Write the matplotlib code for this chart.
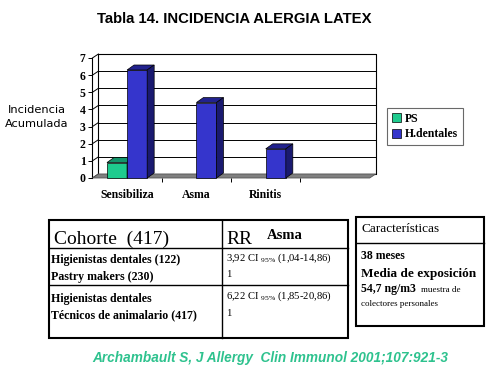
import matplotlib
matplotlib.use("Agg")
import matplotlib.pyplot as plt
from matplotlib.patches import Polygon, Rectangle
from matplotlib.lines import Line2D

plt.rcParams['mathtext.fontset'] = 'custom'
plt.rcParams['mathtext.rm'] = 'Liberation Serif'
plt.rcParams['mathtext.it'] = 'Liberation Serif'

# ---- data ----
categories = ["Sensibiliza", "Asma", "Rinitis", ""]
series_names = ["PS", "H.dentales"]
ps_values = [0.9, None, None, None]
hd_values = [6.3, 4.4, 1.7, None]
yticks = [0, 1, 2, 3, 4, 5, 6, 7]

W, H = 491, 369
fig = plt.figure(figsize=(W / 100, H / 100), dpi=100)
fig.patch.set_facecolor("white")


def fx(x):
    return x / W


def fy(y):
    return 1 - y / H


SERIF = "Liberation Serif"
SANS = "Liberation Sans"

# ---- chart axes (front plane) ----
left, right, bot, top = 92.4, 369.7, 178, 58
ax = fig.add_axes([fx(left), fy(bot), (right - left) / W, (bot - top) / H])
ax.set_xlim(-0.5, 3.5)
ax.set_ylim(0, 7)
ax.patch.set_alpha(0)
for s in ax.spines.values():
    s.set_visible(False)

ppx = (right - left) / 4.0   # pixels per x unit
ppy = (bot - top) / 7.0      # pixels per y unit
wdx, wdy = 6 / ppx, 4 / ppy  # back-wall offset in data units
bdx, bdy = 7 / ppx, 5 / ppy  # bar depth offset

x0, x1 = -0.5, 3.5
# back wall
ax.add_patch(Rectangle((x0 + wdx, wdy), x1 - x0, 7, facecolor="white",
                       edgecolor="black", lw=0.8, clip_on=False, zorder=1))
for v in yticks:
    ax.plot([x0 + wdx, x1 + wdx], [v + wdy, v + wdy], color="black", lw=0.7,
            clip_on=False, zorder=1.1)
    ax.plot([x0, x0 + wdx], [v, v + wdy], color="black", lw=0.7,
            clip_on=False, zorder=1.1)
# left axis line
ax.plot([x0, x0], [0, 7], color="black", lw=0.8, clip_on=False, zorder=1.2)
# floor
ax.add_patch(Polygon([(x0, 0), (x1, 0), (x1 + wdx, wdy), (x0 + wdx, wdy)],
                     closed=True, facecolor="#808080", edgecolor="#555555",
                     lw=0.6, clip_on=False, zorder=1.3))

bw = 0.29
colors_front = ["#1ECB8E", "#3535CC"]
colors_top = ["#12946A", "#22228E"]
colors_side = ["#0E7A55", "#1A1A70"]
handles = []
for si, vals in enumerate([ps_values, hd_values]):
    off = (-0.5 + si) * bw
    xs = [i + off for i, v in enumerate(vals) if v is not None]
    hs = [v for v in vals if v is not None]
    bars = ax.bar(xs, hs, width=bw, color=colors_front[si], edgecolor="black",
                  lw=0.5, zorder=3, clip_on=False)
    handles.append(Rectangle((0, 0), 1, 1, facecolor=colors_front[si],
                             edgecolor="black", lw=0.5))
    for xc, h in zip(xs, hs):
        xa, xb = xc - bw / 2, xc + bw / 2
        ax.add_patch(Polygon([(xa, h), (xb, h), (xb + bdx, h + bdy), (xa + bdx, h + bdy)],
                             closed=True, facecolor=colors_top[si], edgecolor="black",
                             lw=0.5, zorder=3, clip_on=False))
        ax.add_patch(Polygon([(xb, 0), (xb + bdx, bdy), (xb + bdx, h + bdy), (xb, h)],
                             closed=True, facecolor=colors_side[si], edgecolor="black",
                             lw=0.5, zorder=3, clip_on=False))

ax.set_yticks(yticks)
ax.set_yticklabels([str(v) for v in yticks], fontfamily=SERIF, fontweight="bold",
                   fontsize=8.5)
ax.tick_params(axis="y", length=3, width=0.7, pad=2)
ax.set_xticks([0, 1, 2])
ax.set_xticklabels(categories[:3], fontfamily=SERIF, fontweight="bold", fontsize=8.5)
ax.tick_params(axis="x", which="major", length=0, pad=8)
ax.set_xticks([0.5, 1.5, 2.5], minor=True)
ax.tick_params(axis="x", which="minor", length=3, width=0.7, direction="out")

leg = ax.legend(handles, series_names, loc="upper left",
                bbox_to_anchor=(fx(387), fy(108)), bbox_transform=fig.transFigure,
                frameon=True, fancybox=False, edgecolor="#444444",
                prop={"family": SERIF, "weight": "bold", "size": 8.5},
                borderpad=0.4, handlelength=0.8, handleheight=0.8,
                handletextpad=0.3, labelspacing=0.3, borderaxespad=0)
leg.get_frame().set_linewidth(0.8)

# ---- titles / labels ----
fig.text(fx(234), fy(19), "Tabla 14. INCIDENCIA ALERGIA LATEX", ha="center",
         va="center", fontfamily=SANS, fontweight="bold", fontsize=10.7)
fig.text(fx(37), fy(117), "Incidencia\nAcumulada", ha="center", va="center",
         fontfamily="DejaVu Sans", fontsize=8.2, linespacing=1.5)
fig.text(fx(270), fy(358), "Archambault S, J Allergy  Clin Immunol 2001;107:921-3",
         ha="center", va="center", fontfamily=SANS, fontweight="bold",
         fontstyle="italic", fontsize=9.8, color="#2EC28E")


def line(xa, ya, xb, yb, lw=1.5):
    fig.add_artist(Line2D([fx(xa), fx(xb)], [fy(ya), fy(yb)], color="black", lw=lw))


def txt(x, y, s, size, bold=False, family=SERIF):
    fig.text(fx(x), fy(y), s, ha="left", va="baseline", fontfamily=family,
             fontweight="bold" if bold else "normal", fontsize=size)


# ---- left table ----
fig.add_artist(Rectangle((fx(49), fy(338)), (348 - 49) / W, (338 - 220) / H,
                         transform=fig.transFigure, facecolor="none",
                         edgecolor="black", lw=1.5))
line(222, 220, 222, 338, 1.0)
line(49, 248, 348, 248, 1.0)
line(49, 285, 348, 285, 1.0)
txt(54, 244, "Cohorte  (417)", 14)
txt(226, 244, "RR", 14)
txt(267, 239, "Asma", 10.5, bold=True)
txt(51, 263, "Higienistas dentales (122)", 8.6, bold=True)
txt(51, 280, "Pastry makers (230)", 8.6, bold=True)
txt(226, 261, "3,92 CI $_{\\mathrm{95\\%}}$ (1,04-14,86)", 7.7)
txt(226, 277, "1", 7.7)
txt(51, 302, "Higienistas dentales", 8.6, bold=True)
txt(51, 318, "Técnicos de animalario (417)", 8.6, bold=True)
txt(226, 299, "6,22 CI $_{\\mathrm{95\\%}}$ (1,85-20,86)", 7.7)
txt(226, 316, "1", 7.7)

# ---- right box ----
fig.add_artist(Rectangle((fx(356), fy(326)), (484 - 356) / W, (326 - 217) / H,
                         transform=fig.transFigure, facecolor="none",
                         edgecolor="black", lw=1.5))
line(356, 243, 484, 243, 1.0)
txt(361, 232, "Características", 9.5)
txt(361, 259, "38 meses", 8.5, bold=True)
txt(361, 277, "Media de exposición", 9.5, bold=True)
txt(361, 292, "54,7 ng/m3", 8.5, bold=True)
txt(421, 292, "muestra de", 6.5)
txt(361, 306, "colectores personales", 6.5)

fig.savefig("out.png", dpi=100)
